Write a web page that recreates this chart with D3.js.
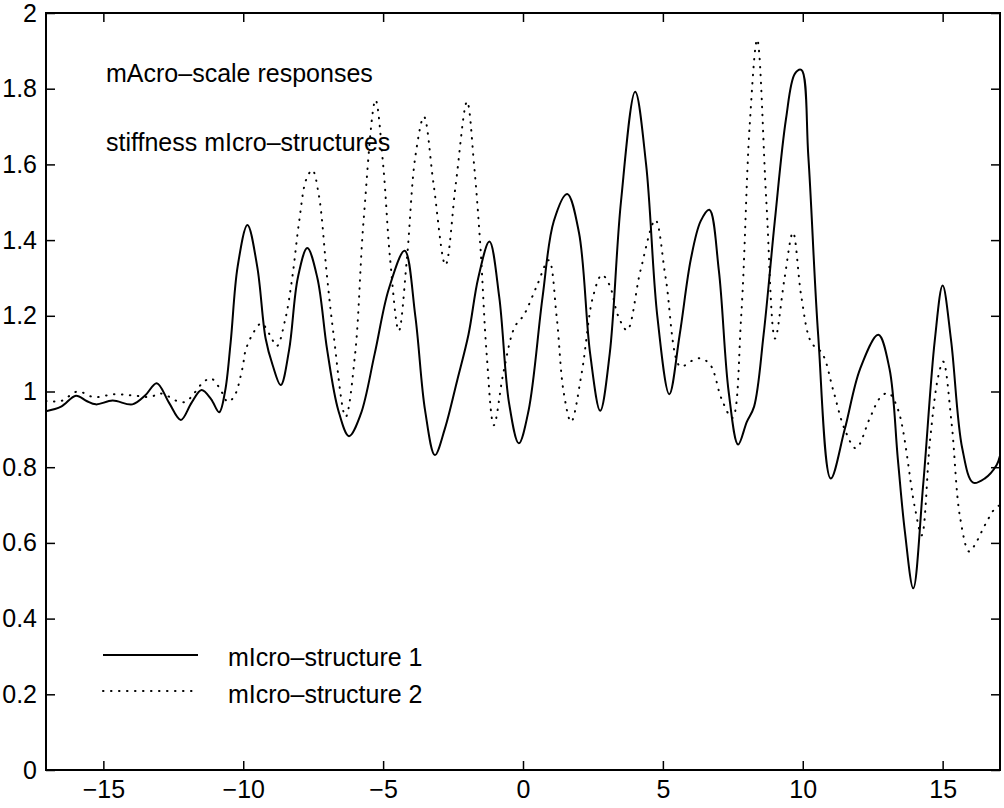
<!DOCTYPE html>
<html lang="en">
<head>
<meta charset="UTF-8">
<title>mAcro-scale responses</title>
<script src="https://d3js.org/d3.v7.min.js"></script>
<style>
    body { margin: 0; background: #fff; }
    svg { display: block; font-family: "Liberation Sans", Arial, Helvetica, sans-serif; }
    .axis path { display: none; }
    .axis line { stroke: #000; stroke-width: 1.5; }
    .axis text { font-size: 25px; fill: #000; }
</style>
</head>
<body>
<div id="chart"></div>
<script>
    // tick values
    const xTicks = [-15, -10, -5, 0, 5, 10, 15];
    const yTicks = [0, 0.2, 0.4, 0.6, 0.8, 1, 1.2, 1.4, 1.6, 1.8, 2];

    // micro-structure 1 (solid)
    const x1 = [-17.05, -16.51, -15.98, -15.6, -15.27, -14.67, -13.96, -13.5, -13.09, -12.65, -12.23, -11.85,
        -11.49, -11.15, -10.86, -10.65, -10.45, -10.2, -9.85, -9.5, -9.2, -8.95, -8.66, -8.36, -8.05,
        -7.71, -7.35, -7.0, -6.6, -6.22, -5.8, -5.3, -4.8, -4.23, -3.85, -3.5, -3.15, -2.8, -2.35, -1.95, -1.6,
        -1.2, -0.85, -0.5, -0.15, 0.2, 0.7, 1.1, 1.58, 2.0, 2.4, 2.76, 3.1, 3.5, 4.01, 4.4, 4.8, 5.23, 5.6, 6.0,
        6.35, 6.66, 7.0, 7.35, 7.69, 8.0, 8.26, 8.6, 9.0, 9.4, 9.72, 9.95, 10.2, 10.55, 11.0, 11.5, 12.05, 12.7, 13.1,
        13.4, 13.65, 13.95, 14.3, 14.72, 15.0, 15.3, 15.7, 16.09, 16.5, 16.93, 17.05];
    const y1 = [0.948, 0.96, 0.989, 0.975, 0.966, 0.976, 0.966, 0.99, 1.022, 0.97, 0.925, 0.97,
        1.004, 0.98, 0.945, 1.0, 1.13, 1.33, 1.44, 1.33, 1.14, 1.07, 1.017, 1.11, 1.3,
        1.379, 1.3, 1.11, 0.95, 0.882, 0.94, 1.1, 1.27, 1.372, 1.2, 0.95, 0.832, 0.9, 1.03, 1.15, 1.3,
        1.396, 1.25, 0.97, 0.863, 0.95, 1.25, 1.45, 1.522, 1.42, 1.1, 0.949, 1.1, 1.5, 1.792, 1.6, 1.2, 0.993, 1.15, 1.35,
        1.45, 1.48, 1.32, 1.0, 0.86, 0.92, 0.96, 1.15, 1.45, 1.72, 1.84, 1.85, 1.62, 1.15, 0.77, 0.9, 1.06, 1.15, 1.06,
        0.82, 0.63, 0.48, 0.75, 1.136, 1.28, 1.136, 0.85, 0.759, 0.77, 0.806, 0.83];

    // micro-structure 2 (dotted)
    const x2 = [-17.05, -16.51, -15.92, -15.33, -14.61, -14.0, -13.3, -13.0, -12.7, -12.37, -12.05, -11.76,
        -11.46, -11.16, -10.92, -10.74, -10.56, -10.33, -10.03, -9.91, -9.6, -9.35, -9.05, -8.8, -8.5, -8.25,
        -8.0, -7.75, -7.53, -7.3, -7.0, -6.77, -6.34, -6.0, -5.7, -5.27, -5.0, -4.75, -4.44, -4.15, -3.85, -3.54,
        -3.2, -2.77, -2.4, -2.0, -1.75, -1.52, -1.3, -1.04, -0.7, -0.3, 0.03, 0.5, 0.92, 1.2, 1.45, 1.72, 2.1,
        2.5, 2.82, 3.1, 3.4, 3.72, 4.2, 4.73, 5.1, 5.62, 6.0, 6.33, 6.7, 7.1, 7.48, 7.8, 8.1, 8.37, 8.7, 9.01,
        9.35, 9.65, 9.95, 10.3, 10.7, 11.1, 11.5, 11.9, 12.4, 12.76, 13.06, 13.41, 14.0, 14.25, 14.55, 14.84,
        15.02, 15.32, 15.62, 15.95, 16.21, 16.51, 16.87, 17.05];
    const y2 = [0.975, 0.975, 1.0, 0.985, 0.993, 0.99, 0.986, 0.995, 0.988, 0.975, 0.973, 0.995,
        1.022, 1.035, 1.017, 0.995, 0.973, 0.986, 1.061, 1.11, 1.16, 1.18, 1.15, 1.12, 1.19, 1.3,
        1.45, 1.56, 1.585, 1.52, 1.3, 1.15, 0.933, 1.1, 1.45, 1.77, 1.6, 1.35, 1.16, 1.35, 1.62, 1.726,
        1.55, 1.334, 1.55, 1.766, 1.6, 1.38, 1.1, 0.911, 1.05, 1.17, 1.202, 1.28, 1.347, 1.2, 1.0, 0.92, 1.05,
        1.25, 1.308, 1.28, 1.2, 1.162, 1.32, 1.453, 1.3, 1.066, 1.08, 1.088, 1.07, 0.98, 0.93, 1.2, 1.7, 1.93, 1.5, 1.14,
        1.3, 1.42, 1.25, 1.13, 1.1, 1.0, 0.9, 0.85, 0.93, 0.983, 0.996, 0.951, 0.696, 0.62, 0.872, 1.039,
        1.079, 0.916, 0.669, 0.577, 0.603, 0.647, 0.691, 0.70];

    const legendLabels = ["mIcro\u2013structure 1", "mIcro\u2013structure 2"];
    const notes = ["mAcro\u2013scale responses", "stiffness mIcro\u2013structures"];

    const W = 1004, H = 808;
    const margin = {top: 13, right: 4, bottom: 38, left: 46};
    const w = W - margin.left - margin.right;
    const h = H - margin.top - margin.bottom;

    const svg = d3.select("#chart").append("svg")
        .attr("width", W)
        .attr("height", H);

    const g = svg.append("g")
        .attr("transform", `translate(${margin.left},${margin.top})`);

    const x = d3.scaleLinear().domain([-17.05, 17.05]).range([0, w]);
    const y = d3.scaleLinear().domain([0, 2]).range([h, 0]);

    g.append("clipPath").attr("id", "clip")
        .append("rect").attr("width", w).attr("height", h);

    // axes with inward ticks on all four sides
    g.append("g").attr("class", "axis")
        .attr("transform", `translate(0,${h})`)
        .call(d3.axisBottom(x).tickValues(xTicks).tickSizeInner(-9).tickSizeOuter(0).tickPadding(10));
    g.append("g").attr("class", "axis")
        .call(d3.axisTop(x).tickValues(xTicks).tickSizeInner(-9).tickSizeOuter(0).tickFormat(""));
    g.append("g").attr("class", "axis")
        .call(d3.axisLeft(y).tickValues(yTicks).tickSizeInner(-9).tickSizeOuter(0).tickPadding(9)
            .tickFormat(d3.format("~g")));
    g.append("g").attr("class", "axis")
        .attr("transform", `translate(${w},0)`)
        .call(d3.axisRight(y).tickValues(yTicks).tickSizeInner(-9).tickSizeOuter(0).tickFormat(""));

    const line = d3.line()
        .x(d => x(d[0]))
        .y(d => y(d[1]))
        .curve(d3.curveCatmullRom.alpha(0.5));

    const plot = g.append("g").attr("clip-path", "url(#clip)");

    plot.append("path")
        .datum(d3.zip(x2, y2))
        .attr("d", line)
        .attr("fill", "none")
        .attr("stroke", "#000")
        .attr("stroke-width", 2)
        .attr("stroke-linecap", "round")
        .attr("stroke-dasharray", "0.5 7.5");

    plot.append("path")
        .datum(d3.zip(x1, y1))
        .attr("d", line)
        .attr("fill", "none")
        .attr("stroke", "#000")
        .attr("stroke-width", 2);

    // frame
    g.append("rect")
        .attr("width", w)
        .attr("height", h)
        .attr("fill", "none")
        .attr("stroke", "#000")
        .attr("stroke-width", 2);

    // text notes
    g.selectAll(".note")
        .data(notes)
        .enter().append("text")
        .attr("class", "note")
        .attr("x", 106 - margin.left)
        .attr("y", (d, i) => [82, 151][i] - margin.top)
        .attr("font-size", 25)
        .text(d => d);

    // legend
    const legend = g.append("g")
        .attr("transform", `translate(${103 - margin.left},${655 - margin.top})`);
    legend.append("line")
        .attr("x1", 0).attr("x2", 95).attr("y1", 0).attr("y2", 0)
        .attr("stroke", "#000").attr("stroke-width", 2);
    legend.append("line")
        .attr("x1", 0).attr("x2", 95).attr("y1", 36).attr("y2", 36)
        .attr("stroke", "#000").attr("stroke-width", 2)
        .attr("stroke-linecap", "round").attr("stroke-dasharray", "0.5 7.5");
    legend.selectAll("text")
        .data(legendLabels)
        .enter().append("text")
        .attr("x", 125)
        .attr("y", (d, i) => 11 + i * 37)
        .attr("font-size", 25)
        .text(d => d);
</script>
</body>
</html>
